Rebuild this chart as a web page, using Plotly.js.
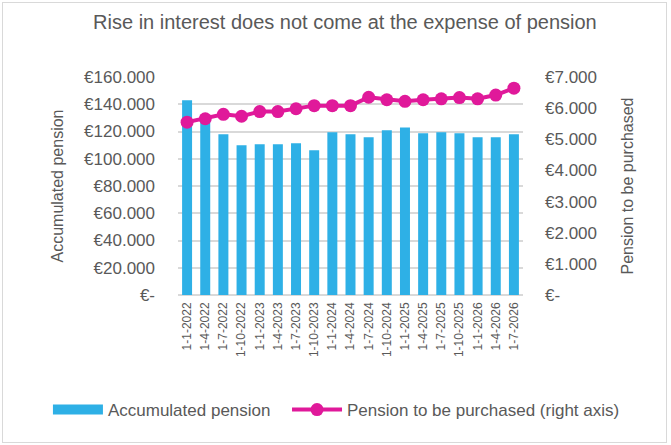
<!DOCTYPE html>
<html>
<head>
<meta charset="utf-8">
<script src="https://cdn.plot.ly/plotly-3.0.1.min.js"></script>
<style>
  body { margin: 0; background: #fff; }
  #chart { width: 671px; height: 445px; position: relative; }
  #frame { position: absolute; left: 2px; top: 2px; width: 663px; height: 439px;
           border: 1.5px solid #d9d9d9; pointer-events: none; }
</style>
</head>
<body>
<div id="chart"></div>
<div id="frame"></div>
<script>
// quarters
var dates = ["1-1-2022", "1-4-2022", "1-7-2022", "1-10-2022",
             "1-1-2023", "1-4-2023", "1-7-2023", "1-10-2023",
             "1-1-2024", "1-4-2024", "1-7-2024", "1-10-2024",
             "1-1-2025", "1-4-2025", "1-7-2025", "1-10-2025",
             "1-1-2026", "1-4-2026", "1-7-2026"];

// accumulated pension (left axis)
var accumulated = [143000, 128000, 118000, 110000, 110600, 110600, 111400, 106200,
                   119400, 118000, 115800, 120900, 123000, 118700, 119400, 118700,
                   115800, 115800, 118000];

// pension to be purchased (right axis)
var purchased = [5550, 5660, 5800, 5740, 5890, 5890, 5980, 6080,
                 6080, 6080, 6350, 6270, 6220, 6270, 6300, 6340,
                 6300, 6420, 6640];

var leftTicks = [0, 20000, 40000, 60000, 80000, 100000, 120000, 140000, 160000];
var leftLabels = ["€-", "€20.000", "€40.000", "€60.000", "€80.000",
                  "€100.000", "€120.000", "€140.000", "€160.000"];
var rightTicks = [0, 1000, 2000, 3000, 4000, 5000, 6000, 7000];
var rightLabels = ["€-", "€1.000", "€2.000", "€3.000", "€4.000",
                   "€5.000", "€6.000", "€7.000"];

var fontFam = "Liberation Sans, Arial, sans-serif";
var grey = "#595959";
var blue = '#2eb0e6';
var pink = '#e0199a';

var bars = {
    x: dates,
    y: accumulated,
    type: 'bar',
    name: 'Accumulated pension',
    marker: {color: blue},
    showlegend: false,
    hoverinfo: 'x+y'
};

// legend-only entry so the swatch is a wide block like the original
var barKey = {
    x: [null],
    y: [null],
    type: 'scatter',
    mode: 'lines',
    name: 'Accumulated pension',
    line: {color: blue, width: 13},
    legend: 'legend',
    hoverinfo: 'skip'
};

var line = {
    x: dates,
    y: purchased,
    yaxis: 'y2',
    type: 'scatter',
    mode: 'lines+markers',
    name: 'Pension to be purchased (right axis)',
    line: {color: pink, width: 4},
    marker: {color: pink, size: 13},
    legend: 'legend2',
    hoverinfo: 'x+y'
};

var legendBase = {
    orientation: 'h',
    yanchor: 'middle',
    y: -0.5275,
    xanchor: 'left',
    font: {size: 17, color: grey},
    itemwidth: 50,
    bgcolor: 'rgba(0,0,0,0)'
};

var layout = {
    width: 671,
    height: 445,
    margin: {l: 178, r: 148, t: 77, b: 150},
    paper_bgcolor: '#fff',
    plot_bgcolor: '#fff',
    font: {family: fontFam, color: grey},
    title: {
        text: 'Rise in interest does not come at the expense of pension',
        font: {size: 20, color: grey},
        xref: 'container', x: 0.514, xanchor: 'center',
        yref: 'container', y: 0.95, yanchor: 'middle'
    },
    bargap: 0.45,
    showlegend: true,
    legend: Object.assign({}, legendBase, {x: -0.377}),
    legend2: Object.assign({}, legendBase, {x: 0.316}),
    xaxis: {
        type: 'category',
        range: [-0.5, dates.length - 0.5],
        tickangle: -90,
        tickfont: {size: 12, color: grey},
        showgrid: false,
        showline: false,
        ticks: '',
        ticklabelstandoff: 4
    },
    yaxis: {
        range: [0, 160000],
        tickvals: leftTicks,
        ticktext: leftLabels,
        tickfont: {size: 17, color: grey},
        gridcolor: '#d9d9d9',
        gridwidth: 1.5,
        zeroline: true,
        zerolinecolor: '#d9d9d9',
        zerolinewidth: 2,
        ticks: '',
        ticklabelstandoff: 22,
        title: {text: 'Accumulated pension', font: {size: 16, color: grey}, standoff: 16}
    },
    yaxis2: {
        overlaying: 'y',
        side: 'right',
        range: [0, 7000],
        tickvals: rightTicks,
        ticktext: rightLabels,
        tickfont: {size: 17, color: grey},
        showgrid: false,
        zeroline: false,
        ticks: '',
        ticklabelstandoff: 21,
        title: {text: 'Pension to be purchased', font: {size: 16, color: grey}, standoff: 25}
    }
};

Plotly.newPlot('chart', [bars, barKey, line], layout, {displayModeBar: false, responsive: false});
</script>
</body>
</html>
